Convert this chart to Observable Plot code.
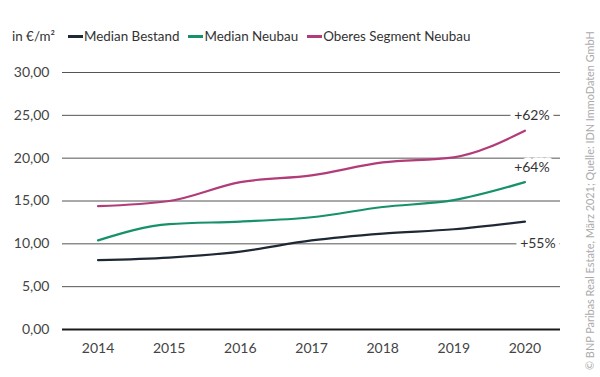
<!DOCTYPE html>
<html><head><meta charset="utf-8">
<script src="https://cdn.jsdelivr.net/npm/d3@7"></script>
<script src="https://cdn.jsdelivr.net/npm/@observablehq/plot@0.6"></script>
<style>
body{margin:0;background:#fff;font-family:Lato,"Open Sans",sans-serif;}
#wrap{position:relative;width:600px;height:377px;overflow:hidden;}
#legend{position:absolute;left:12px;top:28px;font-size:13.4px;color:#333;display:flex;align-items:center;white-space:nowrap;}
#legend .sw{display:inline-block;width:15px;height:3px;margin-right:1px;vertical-align:middle;}
#legend .it{margin-right:9px;display:flex;align-items:center;}
#chart{position:absolute;left:0;top:52px;}
#src{position:absolute;left:583px;top:370px;transform-origin:0 0;transform:rotate(-90deg);font-size:10.9px;line-height:13px;color:#aaa;white-space:nowrap;}
</style></head>
<body>
<div id="wrap">
  <div id="legend"></div>
  <div id="chart"></div>
  <div id="src">© BNP Paribas Real Estate, März 2021; Quelle: IDN ImmoDaten GmbH</div>
</div>
<script>
const years = [2014, 2015, 2016, 2017, 2018, 2019, 2020];
const medianBestand = [8.1, 8.4, 9.1, 10.4, 11.2, 11.7, 12.6];
const medianNeubau = [10.4, 12.3, 12.6, 13.1, 14.3, 15.1, 17.2];
const oberesSegment = [14.4, 15.0, 17.2, 18.0, 19.5, 20.1, 23.2];
const seriesNames = ["Median Bestand", "Median Neubau", "Oberes Segment Neubau"];
const seriesColors = ["#1e2935", "#16916b", "#b23b7a"];
const yTicks = [0, 5, 10, 15, 20, 25, 30];
const unitLabel = "in €/m²";
const annoLabels = ["+62%", "+64%", "+55%"];
const annoY = [25, 18.9, 10];
const annoDx = [7, 7, 13];

const lg = document.getElementById("legend");
const u = document.createElement("span"); u.textContent = unitLabel; u.style.marginRight = "13px"; lg.appendChild(u);
seriesNames.forEach((n, i) => {
  const it = document.createElement("span"); it.className = "it";
  const sw = document.createElement("span"); sw.className = "sw"; sw.style.background = seriesColors[i];
  const t = document.createElement("span"); t.textContent = n;
  it.appendChild(sw); it.appendChild(t); lg.appendChild(it);
});

const allVals = [medianBestand, medianNeubau, oberesSegment];
const data = [];
allVals.forEach((vals, s) => vals.forEach((v, i) => data.push({year: years[i], value: v, series: seriesNames[s]})));
const anno = annoLabels.map((l, i) => ({label: l, y: annoY[i], dx: annoDx[i]}));

const fmt = v => v.toFixed(2).replace(".", ",");

const plot = Plot.plot({
  width: 600,
  height: 325,
  marginLeft: 62,
  marginRight: 40,
  marginTop: 20,
  marginBottom: 48,
  style: {fontFamily: "Lato, 'Open Sans', sans-serif", fontSize: "14px", color: "#444", background: "#fff"},
  x: {domain: [2013.5, 2020.5], ticks: years, tickFormat: d => String(d), tickSize: 0, tickPadding: 14, label: null},
  y: {domain: [0, 30], ticks: yTicks, tickFormat: fmt, tickSize: 0, tickPadding: 13, label: null},
  color: {domain: seriesNames, range: seriesColors},
  marks: [
    Plot.ruleY(yTicks.filter(t => t > 0), {stroke: "#555", strokeWidth: 1}),
    Plot.ruleY([0], {stroke: "#1a1a1a", strokeWidth: 2}),
    Plot.line(data, {x: "year", y: "value", z: "series", stroke: "series", strokeWidth: 2.2, curve: "monotone-x"}),
    ...anno.map(a => Plot.text([a], {x: () => 2020, y: "y", text: "label", dx: a.dx, fill: "#333", stroke: "white", strokeWidth: 9, fontSize: 14})),
    Plot.axisX({ticks: years, tickFormat: d => String(d), tickSize: 0, tickPadding: 14, fill: "#444", fontSize: 14}),
    Plot.axisY({ticks: yTicks, tickFormat: fmt, tickSize: 0, tickPadding: 13, fill: "#444", fontSize: 14})
  ]
});
document.getElementById("chart").appendChild(plot);
</script>
</body></html>
